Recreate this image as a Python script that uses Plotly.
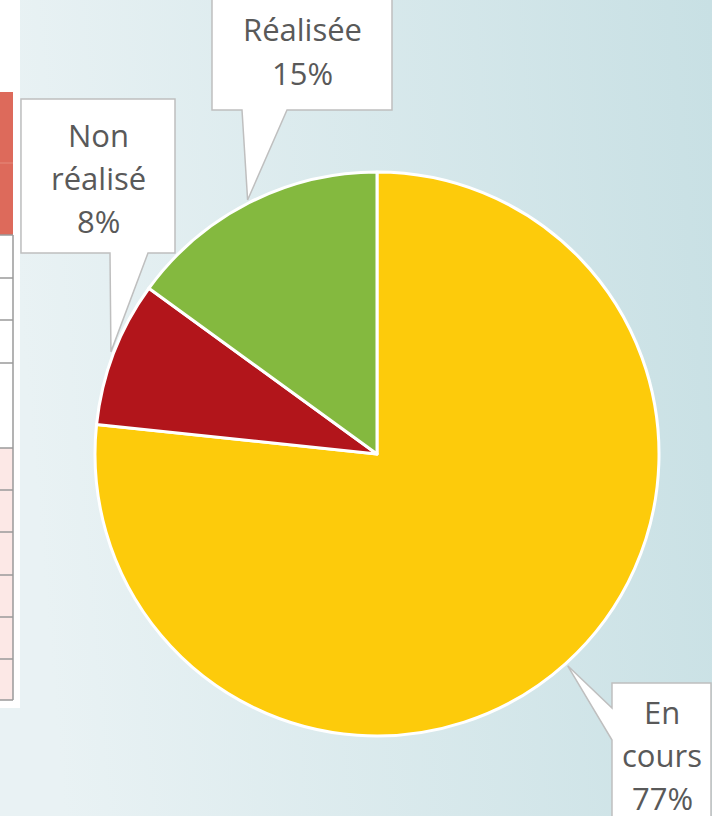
import math, base64
import plotly.graph_objects as go

# ---- data ----
categories = ["En cours", "Non réalisé", "Réalisée"]
counts = [46, 5, 9]
colors = ["#FDCB0B", "#B2151B", "#84B93F"]
label_lines = [["En", "cours"], ["Non", "réalisé"], ["Réalisée"]]

# ---- layout constants (pixels) ----
W, H = 712, 816
CX, CY, R = 377, 454, 282
TEXT_COLOR = "#595959"
FONT = "Open Sans"
FSIZE = 31
LINE_GAP = 43

# callout boxes: (left, top, right, bottom), pointer side, pointer base (a, b), text centre (x, y)
callouts = [
    dict(box=(612, 683, 711, 830), side="left", base=(708, 740), text=(662, 755)),
    dict(box=(21, 99, 175, 253), side="bottom", base=(110, 148), text=(98, 178)),
    dict(box=(212, -10, 392, 110), side="bottom", base=(242, 287), text=(302, 51)),
]


def px(x):
    return x / W


def py(y):
    return 1 - y / H


def P(x, y):
    return f"{px(x):.5f},{py(y):.5f}"


# background gradient (svg data uri)
svg = f"""<svg xmlns='http://www.w3.org/2000/svg' width='{W}' height='{H}'>
<defs><linearGradient id='g' x1='0' y1='0.1' x2='1' y2='0'>
<stop offset='0' stop-color='#e9f2f4'/><stop offset='1' stop-color='#c8e0e4'/>
</linearGradient></defs><rect width='{W}' height='{H}' fill='url(#g)'/></svg>"""
bg_uri = "data:image/svg+xml;base64," + base64.b64encode(svg.encode()).decode()

fig = go.Figure()
fig.add_trace(go.Pie(
    labels=categories, values=counts, sort=False, direction="clockwise",
    rotation=0, textinfo="none", hoverinfo="label+percent",
    marker=dict(colors=colors, line=dict(color="white", width=3)),
    domain=dict(x=[px(CX - R), px(CX + R)], y=[py(CY + R), py(CY - R)]),
    showlegend=False,
))

shapes = []
# left panel with table fragment
shapes.append(dict(type="rect", xref="paper", yref="paper", x0=px(0), x1=px(20), y0=py(708), y1=py(-2),
                   fillcolor="white", line=dict(width=0), layer="below"))
shapes.append(dict(type="rect", xref="paper", yref="paper", x0=px(-2), x1=px(13), y0=py(235), y1=py(92),
                   fillcolor="#DD6A5B", line=dict(width=0)))
shapes.append(dict(type="line", xref="paper", yref="paper", x0=px(-2), x1=px(13), y0=py(163), y1=py(163),
                   line=dict(color="#E58A7D", width=1)))
shapes.append(dict(type="rect", xref="paper", yref="paper", x0=px(-2), x1=px(13), y0=py(700), y1=py(448),
                   fillcolor="#FCE8E6", line=dict(width=0)))
for yl in [235, 278, 320, 363, 448, 490, 532, 575, 617, 659, 700]:
    shapes.append(dict(type="line", xref="paper", yref="paper", x0=px(-2), x1=px(13), y0=py(yl), y1=py(yl),
                       line=dict(color="#9a9a9a", width=1.5)))
shapes.append(dict(type="line", xref="paper", yref="paper", x0=px(13), x1=px(13), y0=py(700), y1=py(235),
                   line=dict(color="#9a9a9a", width=1.5)))

annotations = []
total = sum(counts)
cum = 0
for i, v in enumerate(counts):
    mid = (cum + v / 2) / total * 2 * math.pi
    cum += v
    tx = CX + (R + 3) * math.sin(mid)
    ty = CY - (R + 3) * math.cos(mid)
    c = callouts[i]
    l, t, r, b = c["box"]
    a1, a2 = c["base"]
    if c["side"] == "bottom":
        pts = [(l, t), (r, t), (r, b), (a2, b), (tx, ty), (a1, b), (l, b)]
    else:
        pts = [(l, t), (r, t), (r, b), (l, b), (l, a2), (tx, ty), (l, a1)]
    path = "M " + " L ".join(P(x, y) for x, y in pts) + " Z"
    shapes.append(dict(type="path", xref="paper", yref="paper", path=path,
                       fillcolor="white", line=dict(color="#BFBFBF", width=1.5)))
    lines = label_lines[i] + [f"{round(v / total * 100)}%"]
    n = len(lines)
    cx, cy = c["text"]
    for k, s in enumerate(lines):
        yk = cy + (k - (n - 1) / 2) * LINE_GAP
        annotations.append(dict(text=s, xref="paper", yref="paper", x=px(cx), y=py(yk),
                                xanchor="center", yanchor="middle", showarrow=False,
                                font=dict(family=FONT, size=FSIZE, color=TEXT_COLOR)))

fig.update_layout(
    width=W, height=H, margin=dict(l=0, r=0, t=0, b=0),
    paper_bgcolor="#d8e8eb", plot_bgcolor="rgba(0,0,0,0)",
    shapes=shapes, annotations=annotations,
    images=[dict(source=bg_uri, xref="paper", yref="paper", x=0, y=1, sizex=1, sizey=1,
                 xanchor="left", yanchor="top", sizing="stretch", layer="below")],
    font=dict(family=FONT),
)

fig.write_html("out.html")
